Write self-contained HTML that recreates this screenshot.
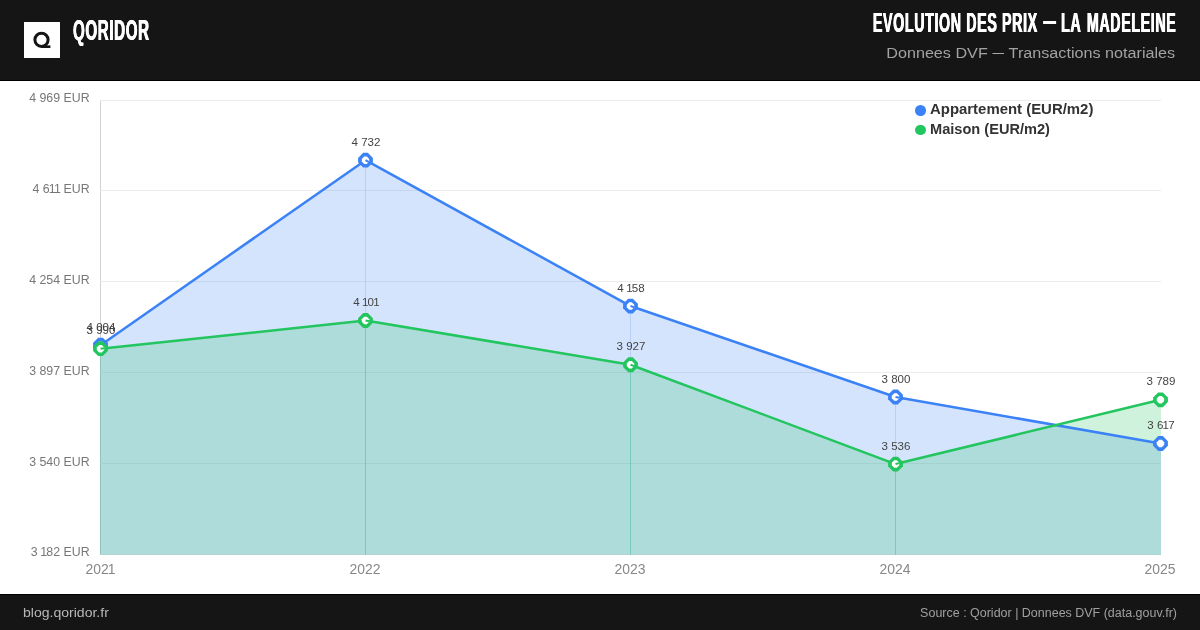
<!DOCTYPE html>
<html lang="fr"><head><meta charset="utf-8"><title>Evolution des prix</title>
<style>
html,body{margin:0;padding:0;}
body{width:1200px;height:630px;position:relative;overflow:hidden;background:#fff;font-family:"Liberation Sans",sans-serif;}
.hdr{position:absolute;left:0;top:0;width:1200px;height:80px;background:#151515;border-bottom:1px solid #000;}
.ftr{position:absolute;left:0;top:594px;width:1200px;height:35px;background:#151515;border-top:1px solid #000;}
.logo{position:absolute;left:24px;top:22px;width:36px;height:36px;background:#fff;}
.brand{position:absolute;left:72.6px;top:13px;font-weight:bold;font-size:30px;line-height:34px;color:#fff;white-space:nowrap;transform-origin:0 50%;transform:scaleX(0.505);letter-spacing:1.2px;text-shadow:0.6px 0 0 #fff,-0.6px 0 0 #fff;}
.title{position:absolute;right:23.4px;top:7px;font-weight:bold;font-size:27.3px;line-height:32px;color:#fff;white-space:nowrap;transform-origin:100% 50%;transform:scaleX(0.522);letter-spacing:1.2px;text-shadow:0.6px 0 0 #fff,-0.6px 0 0 #fff;}
.sub{position:absolute;right:25px;top:43px;font-size:14px;transform:scaleX(1.155);line-height:20px;color:#a2a2a2;white-space:nowrap;transform-origin:100% 50%;}
.td{display:inline-block;width:25px;height:3px;background:#fff;vertical-align:8.5px;margin:0 1px;}
.sd{display:inline-block;width:10.5px;height:1px;background:#a8a8a8;vertical-align:4px;}
.fl{position:absolute;left:23.3px;top:604px;font-size:13px;line-height:18px;color:#b8b8b8;white-space:nowrap;transform-origin:0 50%;transform:scaleX(1.08);}
.fr{position:absolute;right:22.5px;top:604.8px;font-size:12px;line-height:16px;color:#a0a0a0;white-space:nowrap;transform-origin:100% 50%;transform:scaleX(1.04);}
.yl{position:absolute;left:0;width:89.6px;text-align:right;font-size:12px;line-height:16px;color:#777;white-space:nowrap;transform-origin:100% 50%;transform:scaleX(1.03);}
.xl{position:absolute;top:559.6px;width:80px;text-align:center;font-size:15px;line-height:18px;color:#888;transform:scaleX(0.93);}
.dl{position:absolute;width:80px;text-align:center;font-size:11px;line-height:14px;color:#444;white-space:nowrap;transform:scaleX(1.05);}
i{font-style:normal;margin:0 -0.07em;}
.lg{position:absolute;left:930px;transform-origin:0 50%;font-weight:bold;font-size:14px;line-height:18px;color:#333;white-space:nowrap;}
.dot{position:absolute;left:915.2px;width:10.6px;height:10.6px;border-radius:50%;}
svg{position:absolute;left:0;top:0;}
#w{position:absolute;left:0;top:0;width:1200px;height:630px;will-change:transform;}
</style></head><body><div id="w">
<div class="hdr">
  <div class="logo"><svg width="36" height="36" viewBox="0 0 36 36"><circle cx="17.5" cy="17.8" r="6.6" fill="none" stroke="#151515" stroke-width="3"/><line x1="18" y1="24.7" x2="26.4" y2="24.7" stroke="#151515" stroke-width="2.6"/></svg></div>
  <div class="brand">QORIDOR</div>
  <div class="title">EVOLUTION DES PRIX <span class="td"></span> LA <span style="margin-left:2.9px">MADELEINE</span></div>
  <div class="sub">Donnees DVF <span class="sd"></span> Transactions notariales</div>
</div>
<svg width="1200" height="630" viewBox="0 0 1200 630">
<line x1="100.5" y1="100" x2="100.5" y2="555" stroke="#d2d2d2" stroke-width="1"/>
<line x1="100" y1="100.5" x2="1161" y2="100.5" stroke="#ececec" stroke-width="1"/>
<line x1="100" y1="190.5" x2="1161" y2="190.5" stroke="#ececec" stroke-width="1"/>
<line x1="100" y1="281.5" x2="1161" y2="281.5" stroke="#ececec" stroke-width="1"/>
<line x1="100" y1="372.5" x2="1161" y2="372.5" stroke="#ececec" stroke-width="1"/>
<line x1="100" y1="463.5" x2="1161" y2="463.5" stroke="#ececec" stroke-width="1"/>
<line x1="100" y1="554.5" x2="1161" y2="554.5" stroke="#ececec" stroke-width="1"/>
<polygon points="100,345.17 100.5,345.17 365.5,160.21 630.5,306.04 895.5,396.99 1160.5,443.49 1161,443.49 1161,554.8 100,554.8" fill="#3b82f6" fill-opacity="0.215"/>
<polygon points="100,348.72 100.5,348.72 365.5,320.52 630.5,364.73 895.5,464.06 1160.5,399.79 1161,399.79 1161,554.8 100,554.8" fill="#22c55e" fill-opacity="0.215"/>
<line x1="365.5" y1="160.2" x2="365.5" y2="554.8" stroke="#3b82f6" stroke-opacity="0.2" stroke-width="1"/>
<line x1="365.5" y1="320.5" x2="365.5" y2="554.8" stroke="#22c55e" stroke-opacity="0.25" stroke-width="1"/>
<line x1="630.5" y1="306.0" x2="630.5" y2="554.8" stroke="#3b82f6" stroke-opacity="0.2" stroke-width="1"/>
<line x1="630.5" y1="364.7" x2="630.5" y2="554.8" stroke="#22c55e" stroke-opacity="0.25" stroke-width="1"/>
<line x1="895.5" y1="397.0" x2="895.5" y2="554.8" stroke="#3b82f6" stroke-opacity="0.2" stroke-width="1"/>
<line x1="895.5" y1="464.1" x2="895.5" y2="554.8" stroke="#22c55e" stroke-opacity="0.25" stroke-width="1"/>
<polyline points="100.5,345.17 365.5,160.21 630.5,306.04 895.5,396.99 1160.5,443.49" fill="none" stroke="#3b82f6" stroke-width="2.5" stroke-linejoin="round"/>
<polyline points="100.5,348.72 365.5,320.52 630.5,364.73 895.5,464.06 1160.5,399.79" fill="none" stroke="#22c55e" stroke-width="2.5" stroke-linejoin="round"/>
<polygon points="102.79,337.77 107.90,342.87 107.90,347.46 102.79,352.57 98.21,352.57 93.10,347.46 93.10,342.87 98.21,337.77" fill="#3b82f6"/>
<polygon points="101.80,341.47 104.20,343.87 104.20,346.47 101.80,348.87 99.20,348.87 96.80,346.47 96.80,343.87 99.20,341.47" fill="#fff"/>
<line x1="100.50" y1="345.17" x2="103.78" y2="342.88" stroke="#3b82f6" stroke-width="2"/>
<polygon points="367.79,152.81 372.90,157.92 372.90,162.51 367.79,167.61 363.21,167.61 358.10,162.51 358.10,157.92 363.21,152.81" fill="#3b82f6"/>
<polygon points="366.80,156.51 369.20,158.91 369.20,161.51 366.80,163.91 364.20,163.91 361.80,161.51 361.80,158.91 364.20,156.51" fill="#fff"/>
<line x1="365.50" y1="160.21" x2="369.00" y2="162.14" stroke="#3b82f6" stroke-width="2"/>
<polygon points="632.79,298.64 637.90,303.75 637.90,308.33 632.79,313.44 628.21,313.44 623.10,308.33 623.10,303.75 628.21,298.64" fill="#3b82f6"/>
<polygon points="631.80,302.34 634.20,304.74 634.20,307.34 631.80,309.74 629.20,309.74 626.80,307.34 626.80,304.74 629.20,302.34" fill="#fff"/>
<line x1="630.50" y1="306.04" x2="634.28" y2="307.34" stroke="#3b82f6" stroke-width="2"/>
<polygon points="897.79,389.59 902.90,394.70 902.90,399.29 897.79,404.39 893.21,404.39 888.10,399.29 888.10,394.70 893.21,389.59" fill="#3b82f6"/>
<polygon points="896.80,393.29 899.20,395.69 899.20,398.29 896.80,400.69 894.20,400.69 891.80,398.29 891.80,395.69 894.20,393.29" fill="#fff"/>
<line x1="895.50" y1="396.99" x2="899.44" y2="397.68" stroke="#3b82f6" stroke-width="2"/>
<polygon points="1162.79,436.09 1167.90,441.19 1167.90,445.78 1162.79,450.89 1158.21,450.89 1153.10,445.78 1153.10,441.19 1158.21,436.09" fill="#3b82f6"/>
<polygon points="1161.80,439.79 1164.20,442.19 1164.20,444.79 1161.80,447.19 1159.20,447.19 1156.80,444.79 1156.80,442.19 1159.20,439.79" fill="#fff"/>
<polygon points="102.79,341.32 107.90,346.43 107.90,351.02 102.79,356.12 98.21,356.12 93.10,351.02 93.10,346.43 98.21,341.32" fill="#22c55e"/>
<polygon points="101.80,345.02 104.20,347.42 104.20,350.02 101.80,352.42 99.20,352.42 96.80,350.02 96.80,347.42 99.20,345.02" fill="#fff"/>
<line x1="100.50" y1="348.72" x2="104.48" y2="348.30" stroke="#22c55e" stroke-width="2"/>
<polygon points="367.79,313.12 372.90,318.23 372.90,322.82 367.79,327.92 363.21,327.92 358.10,322.82 358.10,318.23 363.21,313.12" fill="#22c55e"/>
<polygon points="366.80,316.82 369.20,319.22 369.20,321.82 366.80,324.22 364.20,324.22 361.80,321.82 361.80,319.22 364.20,316.82" fill="#fff"/>
<line x1="365.50" y1="320.52" x2="369.45" y2="321.18" stroke="#22c55e" stroke-width="2"/>
<polygon points="632.79,357.33 637.90,362.43 637.90,367.02 632.79,372.13 628.21,372.13 623.10,367.02 623.10,362.43 628.21,357.33" fill="#22c55e"/>
<polygon points="631.80,361.03 634.20,363.43 634.20,366.03 631.80,368.43 629.20,368.43 626.80,366.03 626.80,363.43 629.20,361.03" fill="#fff"/>
<line x1="630.50" y1="364.73" x2="634.25" y2="366.13" stroke="#22c55e" stroke-width="2"/>
<polygon points="897.79,456.66 902.90,461.77 902.90,466.36 897.79,471.46 893.21,471.46 888.10,466.36 888.10,461.77 893.21,456.66" fill="#22c55e"/>
<polygon points="896.80,460.36 899.20,462.76 899.20,465.36 896.80,467.76 894.20,467.76 891.80,465.36 891.80,462.76 894.20,460.36" fill="#fff"/>
<line x1="895.50" y1="464.06" x2="899.39" y2="463.12" stroke="#22c55e" stroke-width="2"/>
<polygon points="1162.79,392.39 1167.90,397.49 1167.90,402.08 1162.79,407.19 1158.21,407.19 1153.10,402.08 1153.10,397.49 1158.21,392.39" fill="#22c55e"/>
<polygon points="1161.80,396.09 1164.20,398.49 1164.20,401.09 1161.80,403.49 1159.20,403.49 1156.80,401.09 1156.80,398.49 1159.20,396.09" fill="#fff"/>
</svg>
<div class="yl" style="top:90.3px">4 969 EUR</div>
<div class="yl" style="top:181.1px">4 6<i>1</i><i>1</i> EUR</div>
<div class="yl" style="top:271.9px">4 254 EUR</div>
<div class="yl" style="top:362.7px">3 897 EUR</div>
<div class="yl" style="top:453.5px">3 540 EUR</div>
<div class="yl" style="top:544.3px">3 <i>1</i>82 EUR</div>
<div class="xl" style="left:59.7px">202<i>1</i></div>
<div class="xl" style="left:324.7px">2022</div>
<div class="xl" style="left:589.7px">2023</div>
<div class="xl" style="left:854.7px">2024</div>
<div class="xl" style="left:1119.7px">2025</div>
<div class="dl" style="left:61.1px;top:319.8px">4 004</div>
<div class="dl" style="left:326.1px;top:134.8px">4 732</div>
<div class="dl" style="left:591.1px;top:280.6px">4 <i>1</i>58</div>
<div class="dl" style="left:856.1px;top:371.6px">3 800</div>
<div class="dl" style="left:1121.1px;top:418.1px">3 6<i>1</i>7</div>
<div class="dl" style="left:61.1px;top:323.3px">3 990</div>
<div class="dl" style="left:326.1px;top:295.1px">4 <i>1</i>0<i>1</i></div>
<div class="dl" style="left:591.1px;top:339.3px">3 927</div>
<div class="dl" style="left:856.1px;top:438.7px">3 536</div>
<div class="dl" style="left:1121.1px;top:374.4px">3 789</div>
<div class="dot" style="top:105.2px;background:#3b82f6"></div><div class="lg" style="top:100px;transform:scaleX(1.066)">Appartement (EUR/m2)</div>
<div class="dot" style="top:124.8px;background:#22c55e"></div><div class="lg" style="top:120px;transform:scaleX(1.042)">Maison (EUR/m2)</div>
<div class="ftr"></div>
<div class="fl">blog.qoridor.fr</div>
<div class="fr">Source : Qoridor | Donnees DVF (data.gouv.fr)</div>
</div></body></html>
